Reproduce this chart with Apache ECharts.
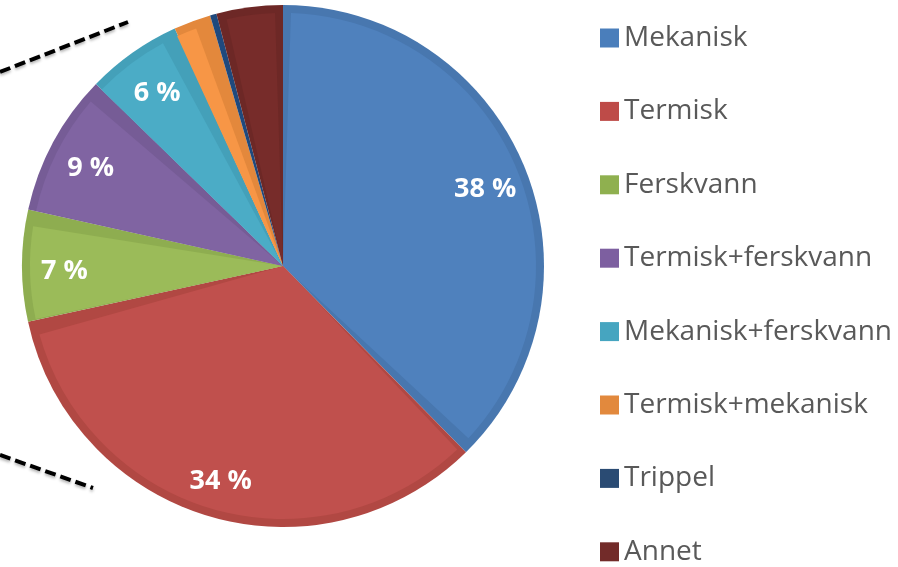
<!DOCTYPE html>
<html>
<head>
<meta charset="utf-8">
<script src="https://cdn.jsdelivr.net/npm/echarts@6/dist/echarts.min.js"></script>
<style>
  html, body { margin: 0; padding: 0; background: #fff; }
  #chart { width: 898px; height: 567px; }
</style>
</head>
<body>
<div id="chart"></div>
<script>
// kategorier og andeler (prosent, lest av figuren)
const categories = ['Mekanisk', 'Termisk', 'Ferskvann', 'Termisk+ferskvann', 'Mekanisk+ferskvann', 'Termisk+mekanisk', 'Trippel', 'Annet']
const shares = [37.6, 33.9, 6.9, 8.8, 5.9, 2.3, 0.4, 4.1]

// farger: fyll, kant (mørkere) og legende
const fillColors = ['#4F81BD', '#C0504D', '#9BBB59', '#8064A2', '#4BACC6', '#F79646', '#1F497D', '#772C2A']
const edgeColors = ['#4877AF', '#B14843', '#8EAD50', '#765C96', '#44A0B9', '#E3883C', '#1F497D', '#6D2826']
const legendColors = ['#4A7EBB', '#BE4B48', '#8FB04F', '#7D5FA0', '#46A5C0', '#E2893D', '#2A4B73', '#722B29']

const CX = 283
const CY = 266
const R = 261

const chart = echarts.init(document.getElementById('chart'), null, { renderer: 'canvas' })

const makeData = (colors) => categories.map((name, i) => ({
  name: name,
  value: shares[i],
  itemStyle: { color: colors[i] }
}))

const option = {
  animation: false,
  legend: {
    orient: 'vertical',
    left: 600,
    top: 24,
    height: 700,
    padding: 0,
    icon: 'rect',
    itemWidth: 19,
    itemHeight: 19,
    itemGap: 45.4,
    selectedMode: false,
    textStyle: {
      fontFamily: 'Open Sans',
      fontSize: 28,
      lineHeight: 28,
      color: '#595959'
    },
    data: categories.map((name, i) => ({ name: name, itemStyle: { color: legendColors[i] } }))
  },
  graphic: [
    {
      type: 'line',
      shape: { x1: 0, y1: 72, x2: 128, y2: 22 },
      style: { stroke: '#000', lineWidth: 4, lineDash: [11, 5], shadowBlur: 3, shadowColor: 'rgba(0,0,0,0.3)', shadowOffsetY: 2 }
    },
    {
      type: 'line',
      shape: { x1: 0, y1: 455, x2: 93, y2: 488 },
      style: { stroke: '#000', lineWidth: 4, lineDash: [11, 5], shadowBlur: 3, shadowColor: 'rgba(0,0,0,0.3)', shadowOffsetY: 2 }
    }
  ],
  series: [
    // mørk bakgrunn (kantene)
    {
      type: 'pie',
      center: [CX, CY],
      radius: [0, R],
      startAngle: 90,
      silent: true,
      label: { show: false },
      labelLine: { show: false },
      emphasis: { disabled: true },
      data: makeData(edgeColors)
    },
    // lysere fyll innenfor
    {
      type: 'pie',
      center: [CX, CY],
      radius: [0, R - 8],
      startAngle: 90,
      padAngle: 3.6,
      silent: true,
      label: { show: false },
      labelLine: { show: false },
      emphasis: { disabled: true },
      data: makeData(fillColors)
    },
    // bare etiketter
    {
      type: 'pie',
      center: [CX, CY],
      radius: [170, R],
      startAngle: 90,
      silent: true,
      itemStyle: { color: 'rgba(0,0,0,0)' },
      labelLine: { show: false },
      emphasis: { disabled: true },
      labelLayout: () => ({ dy: 6 }),
      label: {
        show: true,
        position: 'inside',
        fontFamily: 'Open Sans',
        fontWeight: 'bold',
        fontSize: 27,
        color: '#fff',
        formatter: (p) => p.value >= 5 ? Math.round(p.value) + ' %' : ''
      },
      data: categories.map((name, i) => ({ name: name, value: shares[i] }))
    }
  ]
}

chart.setOption(option)
</script>
</body>
</html>
